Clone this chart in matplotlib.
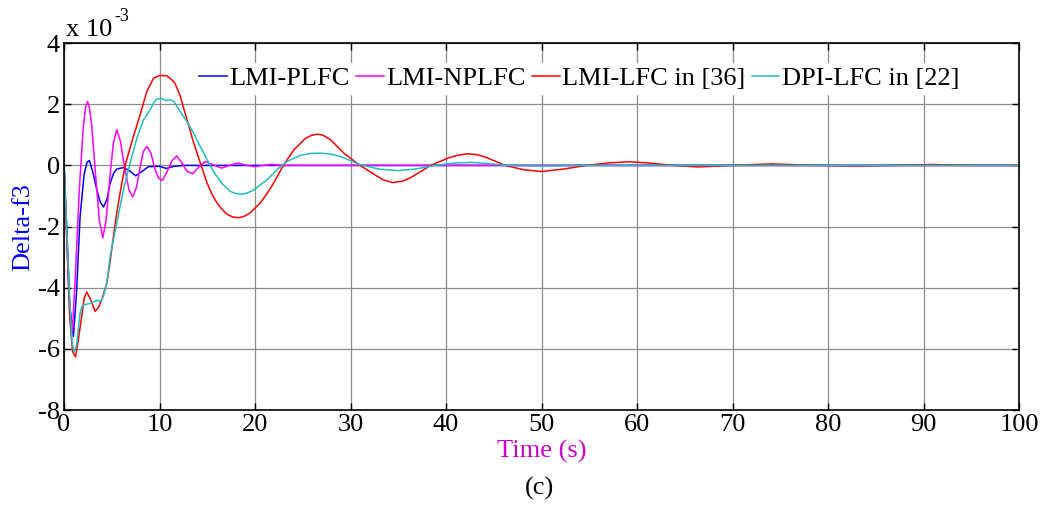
import numpy as np
import matplotlib
matplotlib.use("Agg")
import matplotlib.pyplot as plt

plt.rcParams['font.family'] = ['Liberation Serif', 'DejaVu Serif']
plt.rcParams['axes.unicode_minus'] = False

# frequency deviation of area 3, in units of 1e-3
t_plfc = [0, 0.3, 0.6, 0.98, 1.3, 1.68, 2.1, 2.4, 2.66, 3.0, 3.43, 3.8, 4.13, 4.5,
          4.83, 5.2, 5.52, 6.22, 6.9, 7.5, 8.15, 8.85, 10.0, 10.7, 11.5, 12.5, 100]
v_plfc = [0, -2.2, -4.6, -5.59, -4.2, -1.67, -0.3, 0.1, 0.16, -0.2, -0.8, -1.2, -1.36, -1.1,
          -0.58, -0.25, -0.12, -0.07, -0.18, -0.34, -0.2, -0.04, -0.03, -0.1, -0.03, 0, 0]

t_nplfc = [0, 0.3, 0.6, 0.87, 1.2, 1.6, 2.0, 2.25, 2.45, 2.65, 2.9, 3.3, 3.7, 4.06, 4.4, 4.8,
           5.15, 5.52, 5.9, 6.3, 6.8, 7.2, 7.6, 8.0, 8.3, 8.67, 9.1, 9.5, 9.9, 10.3, 10.8,
           11.3, 11.8, 12.3, 12.9, 13.5, 14.1, 14.8, 15.6, 16.5, 17.3, 18.2, 19.1, 20.0,
           20.8, 21.7, 23, 100]
v_nplfc = [0, -2.5, -4.8, -5.42, -3.5, -0.8, 1.2, 1.9, 2.09, 1.9, 1.3, -0.3, -1.8, -2.37, -1.8, -0.4,
           0.7, 1.17, 0.8, 0.0, -0.8, -1.03, -0.7, 0.0, 0.45, 0.62, 0.4, -0.1, -0.42, -0.49, -0.2,
           0.15, 0.31, 0.1, -0.2, -0.27, -0.05, 0.13, 0.02, -0.09, 0.0, 0.08, 0.0, -0.04,
           0.0, 0.03, 0, 0]

t_lfc36 = [0, 0.3, 0.6, 0.9, 1.2, 1.5, 1.85, 2.1, 2.38, 2.8, 3.25, 3.6, 3.95, 4.48, 4.8, 5.17,
           5.5, 5.87, 6.4, 6.8, 7.27, 7.97, 8.67, 9.37, 10.0, 10.77, 11.1, 11.6, 12.17, 12.87,
           13.57, 14.27, 14.97, 15.5, 16.0, 16.5, 17.07, 17.7, 18.3, 18.9, 19.5, 20.57, 21.3,
           21.96, 23.0, 24.07, 25.3, 25.9, 26.5, 27.1, 27.9, 29.3, 31.0, 32.5, 33.4, 34.4, 35.4,
           36.3, 38.4, 40.3, 41.3, 42.3, 43.3, 44.3, 46.2, 48.1, 50.0, 52.3, 54.7, 57, 59.2,
           61.5, 63.8, 66.4, 70, 74.1, 78.5, 82.8, 87, 90.9, 95, 100]
v_lfc36 = [0, -2.5, -5.0, -6.1, -6.26, -5.7, -4.93, -4.35, -4.14, -4.4, -4.77, -4.65, -4.39, -3.85, -3.2, -2.32,
           -1.6, -0.9, 0.0, 0.45, 0.95, 1.66, 2.42, 2.85, 2.94, 2.93, 2.85, 2.7, 2.26, 1.5,
           0.74, 0.08, -0.57, -0.95, -1.22, -1.42, -1.6, -1.69, -1.71, -1.66, -1.55, -1.22, -0.9,
           -0.57, 0.02, 0.51, 0.89, 0.98, 1.02, 0.99, 0.84, 0.4, 0.0, -0.3, -0.47, -0.56, -0.52,
           -0.4, 0.0, 0.25, 0.34, 0.38, 0.35, 0.25, 0.0, -0.14, -0.2, -0.12, 0.0, 0.08, 0.12,
           0.07, 0.0, -0.05, 0.0, 0.05, 0.0, -0.02, 0.0, 0.03, 0.0, 0.0]

t_dpi22 = [0, 0.3, 0.6, 0.85, 1.05, 1.3, 1.68, 1.9, 2.2, 2.9, 3.43, 3.8, 4.13, 4.5, 4.83,
           5.52, 6.22, 6.92, 7.62, 8.32, 9.02, 9.4, 9.72, 10.24, 10.7, 11.1, 11.47, 12.17,
           12.87, 13.57, 14.27, 14.97, 15.67, 16.5, 17.4, 18.0, 18.6, 19.2, 19.86, 21.26,
           22.3, 23.35, 24.75, 25.8, 26.86, 27.9, 28.96, 31.06, 33, 34.9, 36.8, 38.8, 40.7,
           42.6, 44.5, 46.5, 50, 55, 100]
v_dpi22 = [0, -2.2, -4.5, -5.8, -6.12, -5.9, -4.83, -4.6, -4.55, -4.5, -4.41, -4.45, -4.28, -3.8, -2.97,
           -1.88, -0.8, 0.08, 0.89, 1.49, 1.82, 2.05, 2.17, 2.18, 2.12, 2.14, 2.11, 1.76,
           1.43, 1.05, 0.62, 0.19, -0.2, -0.58, -0.85, -0.92, -0.94, -0.9, -0.8, -0.47,
           -0.14, 0.13, 0.33, 0.39, 0.4, 0.37, 0.29, 0.02, -0.12, -0.17, -0.12, 0.0, 0.07,
           0.1, 0.06, 0.0, -0.02, 0, 0]

labels = ['LMI-PLFC', 'LMI-NPLFC', 'LMI-LFC in [36]', 'DPI-LFC in [22]']
colors = ['#0000ff', '#ff00ff', '#ff0000', '#1fbfbf']

fig = plt.figure(figsize=(10.43, 5.05), dpi=100)
ax = fig.add_axes([0.0614, 0.188, 0.9156, 0.7267])

series = [(t_plfc, v_plfc), (t_nplfc, v_nplfc), (t_lfc36, v_lfc36), (t_dpi22, v_dpi22)]
for (t, v), lab, c in zip(series, labels, colors):
    ax.plot(t, v, color=c, lw=1.1, label=lab)

ax.set_xlim(0, 100)
ax.set_ylim(-8, 4)
ax.set_xticks(np.arange(0, 101, 10))
ax.set_yticks(np.arange(-8, 5, 2))
ax.grid(True, color='#8c8c8c', lw=0.9)
ax.set_axisbelow(True)
ax.tick_params(direction='in', top=True, right=True, labelsize=19, length=5, width=1,
               pad=3)
for s in ax.spines.values():
    s.set_linewidth(1.2)

# exponent marker above the y axis
ax.text(0.002, 1.005, 'x 10', transform=ax.transAxes, fontsize=19,
        ha='left', va='bottom')
ax.text(0.053, 1.05, '-3', transform=ax.transAxes, fontsize=13,
        ha='left', va='bottom')

ax.set_ylabel('Delta-f3', color='#0000ff', fontsize=19)
ax.yaxis.set_label_coords(-0.031, 0.5)
ax.set_xlabel('Time (s)', color='#cc00cc', fontsize=19, va='center')
ax.xaxis.set_label_coords(0.5, -0.114)

fig.text(540 / 1043, 1 - 488 / 505, '(c)', fontsize=19, ha='center', va='center')

leg = ax.legend(ncol=4, loc='upper right', bbox_to_anchor=(963 / 1043, 1 - 63 / 505),
                bbox_transform=fig.transFigure, fontsize=19, frameon=True,
                fancybox=False, edgecolor='white', framealpha=1.0,
                handlelength=1.05, handletextpad=0.08, columnspacing=0.25,
                borderpad=0.15, borderaxespad=0)

fig.savefig('out.png', dpi=100)
